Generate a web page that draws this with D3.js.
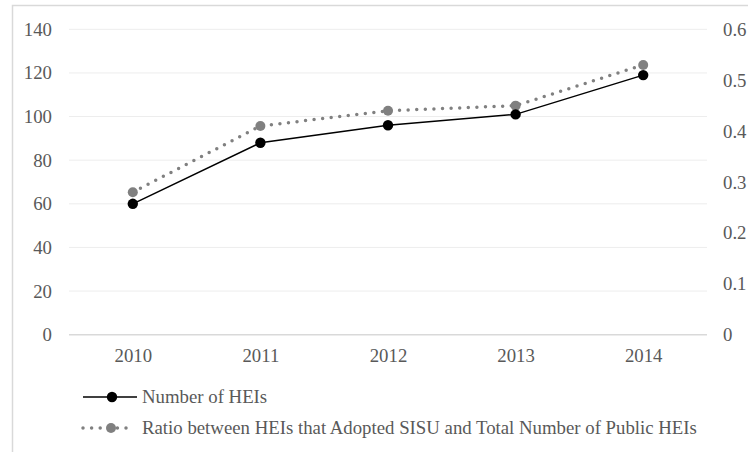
<!DOCTYPE html>
<html>
<head>
<meta charset="utf-8">
<script src="https://cdn.jsdelivr.net/npm/d3@7"></script>
<style>
  html, body { margin: 0; padding: 0; background: #fff; }
  svg { display: block; }
  text { font-family: "Liberation Serif", "Times New Roman", serif; fill: #595959; }
</style>
</head>
<body>
<svg id="chart" width="748" height="452"></svg>
<script>
// Years on the category axis
const years = ["2010", "2011", "2012", "2013", "2014"];
// Number of HEIs adopting SISU (left axis)
const heiCount = [60, 88, 96, 101, 119];
// Ratio of adopting HEIs to all public HEIs (right axis)
const heiRatio = [0.28, 0.41, 0.44, 0.45, 0.53];
// Axis ticks
const leftTicks = [0, 20, 40, 60, 80, 100, 120, 140];
const rightTicks = [0, 0.1, 0.2, 0.3, 0.4, 0.5, 0.6];
// Legend labels
const seriesNames = ["Number of HEIs", "Ratio between HEIs that Adopted SISU and Total Number of Public HEIs"];

const svg = d3.select("#chart");
const W = 748, H = 452;
const plot = { left: 69, right: 707, top: 29.3, bottom: 334.7 };

// Chart frame
svg.append("rect")
  .attr("x", 12.5).attr("y", 5.5)
  .attr("width", W).attr("height", H)
  .attr("fill", "none").attr("stroke", "#d9d9d9").attr("stroke-width", 1.5);

const x = d3.scalePoint().domain(years).range([plot.left, plot.right]).padding(0.5);
const yL = d3.scaleLinear().domain([0, 140]).range([plot.bottom, plot.top]);
const yR = d3.scaleLinear().domain([0, 0.6]).range([plot.bottom, plot.top]);

const fontSize = 18.8;

// Horizontal gridlines
svg.append("g").selectAll("line").data(leftTicks).join("line")
  .attr("x1", plot.left).attr("x2", plot.right)
  .attr("y1", d => yL(d)).attr("y2", d => yL(d))
  .attr("stroke", d => d === 0 ? "#d9d9d9" : "#ededed")
  .attr("stroke-width", d => d === 0 ? 1.5 : 1);

// Left axis
const leftAxis = svg.append("g").attr("transform", `translate(${plot.left},0)`)
  .call(d3.axisLeft(yL).tickValues(leftTicks).tickSize(0).tickPadding(17).tickFormat(d3.format("d")));
leftAxis.select(".domain").remove();
leftAxis.selectAll("text").attr("font-size", fontSize).attr("fill", "#595959")
  .attr("font-family", "Liberation Serif, Times New Roman, serif");

// Right axis
const rightAxis = svg.append("g").attr("transform", `translate(${plot.right},0)`)
  .call(d3.axisRight(yR).tickValues(rightTicks).tickSize(0).tickPadding(16).tickFormat(d => d === 0 ? "0" : d3.format(".1f")(d)));
rightAxis.select(".domain").remove();
rightAxis.selectAll("text").attr("font-size", fontSize).attr("fill", "#595959")
  .attr("font-family", "Liberation Serif, Times New Roman, serif");

// Bottom axis
const bottomAxis = svg.append("g").attr("transform", `translate(0,${plot.bottom})`)
  .call(d3.axisBottom(x).tickSize(0).tickPadding(14));
bottomAxis.select(".domain").remove();
bottomAxis.selectAll("text").attr("font-size", fontSize).attr("fill", "#595959")
  .attr("font-family", "Liberation Serif, Times New Roman, serif");

// Ratio series: gray round-dotted line
const ratioLine = d3.line().x((d, i) => x(years[i])).y(d => yR(d));
svg.append("path").datum(heiRatio)
  .attr("d", ratioLine)
  .attr("fill", "none").attr("stroke", "#808080").attr("stroke-width", 3.5)
  .attr("stroke-linecap", "round").attr("stroke-dasharray", "0 8.6");
svg.append("g").selectAll("circle").data(heiRatio).join("circle")
  .attr("cx", (d, i) => x(years[i])).attr("cy", d => yR(d))
  .attr("r", 5).attr("fill", "#808080");

// Count series: black solid line
const countLine = d3.line().x((d, i) => x(years[i])).y(d => yL(d));
svg.append("path").datum(heiCount)
  .attr("d", countLine)
  .attr("fill", "none").attr("stroke", "#000").attr("stroke-width", 1.5);
svg.append("g").selectAll("circle").data(heiCount).join("circle")
  .attr("cx", (d, i) => x(years[i])).attr("cy", d => yL(d))
  .attr("r", 5.2).attr("fill", "#000");

// Legend
const legend = svg.append("g");
const row1 = legend.append("g").attr("transform", "translate(0,397)");
row1.append("line").attr("x1", 83).attr("x2", 137).attr("y1", 0).attr("y2", 0)
  .attr("stroke", "#000").attr("stroke-width", 1.5);
row1.append("circle").attr("cx", 112).attr("cy", 0).attr("r", 5.2).attr("fill", "#000");
row1.append("text").attr("x", 142).attr("y", 0).attr("dy", "0.33em")
  .attr("font-size", fontSize).text(seriesNames[0]);

const row2 = legend.append("g").attr("transform", "translate(0,428)");
row2.append("line").attr("x1", 83).attr("x2", 134).attr("y1", 0).attr("y2", 0)
  .attr("stroke", "#808080").attr("stroke-width", 3.5)
  .attr("stroke-linecap", "round").attr("stroke-dasharray", "0 8.6");
row2.append("circle").attr("cx", 111).attr("cy", 0).attr("r", 5).attr("fill", "#808080");
row2.append("text").attr("x", 142).attr("y", 0).attr("dy", "0.33em")
  .attr("font-size", fontSize).text(seriesNames[1]);
</script>
</body>
</html>
